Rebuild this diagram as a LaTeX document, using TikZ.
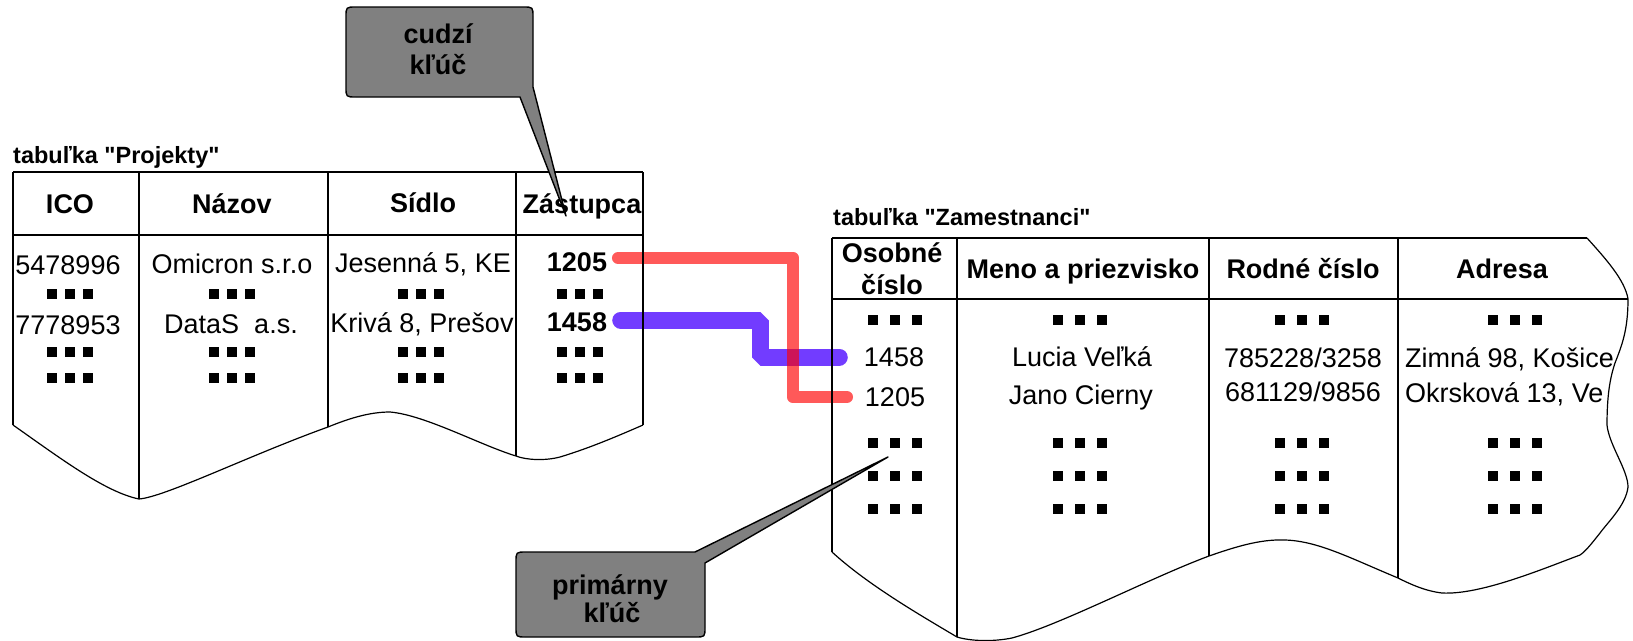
\documentclass[tikz,border=0pt]{standalone}
\usepackage{fontspec}
\setmainfont{Liberation Sans}[Ligatures=TeXOff]
\definecolor{calloutgray}{RGB}{128,128,128}
\definecolor{blueconn}{RGB}{114,60,255}
\newcommand\sqrowL{\rule{10.5pt}{10.5pt}\hspace{7.5pt}\rule{10.5pt}{10.5pt}\hspace{7.5pt}\rule{10.5pt}{10.5pt}}
\newcommand\sqrowR{\rule{10.5pt}{10.5pt}\hspace{11.5pt}\rule{10.5pt}{10.5pt}\hspace{11.5pt}\rule{10.5pt}{10.5pt}}
\begin{document}
\begin{tikzpicture}[x=1pt,y=-1pt,
  tline/.style={line width=1.4pt, line join=round},
  wline/.style={line width=1.2pt, line join=round},
  body/.style={inner sep=0pt, text height=19.3pt, text depth=0pt, font=\fontsize{27}{30}\selectfont},
  bodyb/.style={inner sep=0pt, text height=19.3pt, text depth=0pt, font=\fontsize{27}{30}\selectfont\bfseries},
  ttl/.style={inner sep=0pt, anchor=west, text height=16.8pt, text depth=0pt, font=\fontsize{23.5}{26}\selectfont\bfseries},
  sq/.style={inner sep=0pt},
  callout/.style={draw=black, fill=calloutgray, line width=1.4pt, line join=round},
  redline/.style={line width=12.5pt, draw=red, draw opacity=0.65, line cap=round, line join=round},
  blueline/.style={line width=17pt, draw=blueconn, line cap=round, line join=bevel},
]
\useasboundingbox (0,0) rectangle (1633,640);

% ---------- texts of table "Projekty" ----------
\node[ttl] (tproj) at (13,155) {tabuľka "Projekty"};
\node[bodyb] (hico) at (70,204) {ICO};
\node[bodyb] (hnaz) at (232,204) {Názov};
\node[bodyb] (hsid) at (423,202.5) {Sídlo};
\node[bodyb] (hzas) at (582,204) {Zástupca};
\node[body] (p1) at (68,265) {5478996};
\node[body] (p2) at (232,264) {Omicron s.r.o};
\node[body] (p3) at (423,263) {Jesenná 5, KE};
\node[bodyb] (pa1205) at (577,262) {1205};
\node[body] (p4) at (68,325) {7778953};
\node[body] (p5) at (231,324) {DataS\ \ a.s.};
\node[body] (p6) at (422,323) {Krivá 8, Prešov};
\node[bodyb] (pa1458) at (577,321.5) {1458};

% ---------- texts of table "Zamestnanci" ----------
\node[ttl] (tzam) at (833,217) {tabuľka "Zamestnanci"};
\node[bodyb] (hos1) at (892,252.5) {Osobné};
\node[bodyb] (hos2) at (892,285) {číslo};
\node[bodyb] (hmeno) at (1083,269) {Meno a priezvisko};
\node[bodyb] (hrod) at (1303,268.5) {Rodné číslo};
\node[bodyb] (hadr) at (1502,268.5) {Adresa};
\node[body] (za1458) at (894,357) {1458};
\node[body] (zlucia) at (1082,357) {Lucia Veľká};
\node[body] (zrc1) at (1303,357.5) {785228/3258};
\node[body] (za1205) at (895,397) {1205};
\node[body] (zjano) at (1081,394.5) {Jano Cierny};
\node[body] (zrc2) at (1303,392) {681129/9856};
\begin{scope}
  \clip (1398,230) -- (1587,230) -- (1587,238) .. controls (1605,258) and (1625,280) .. (1628,299)
     .. controls (1628,330) and (1622,345) .. (1615,363) .. controls (1610,378) and (1607,395) .. (1607,425)
     -- (1398,425) -- cycle;
  \node[body, anchor=west] (zadr1) at (1405,357.5) {Zimná 98, Košice};
  \node[body, anchor=west] (zadr2) at (1405,392.5) {Okrsková 13, Ve};
\end{scope}

% ---------- connectors ----------
\coordinate (rv) at (793,0);
\coordinate (bv) at (760,0);
\coordinate (rs) at ([xshift=11pt,yshift=4pt]pa1205.east);
\coordinate (re) at ([xshift=-18pt]za1205.west);
\coordinate (bs) at ([xshift=13.5pt,yshift=1.5pt]pa1458.east);
\coordinate (be) at ([xshift=-24.5pt]za1458.west);
\draw[blueline] (bs) -| (bv |- be) -- (be);
\draw[redline] (rs) -| (rv |- re) -- (re);

% ---------- table "Projekty" lines ----------
\draw[tline] (13,172) -- (643,172);
\draw[tline] (13,235) -- (643,235);
\draw[tline] (13,172) -- (13,425);
\draw[tline] (139,172) -- (139,499);
\draw[tline] (328,172) -- (328,427);
\draw[tline] (516,172) -- (516,456);
\draw[tline] (643,172) -- (643,425);
\draw[wline] (13,425) .. controls (60,458) and (105,492) .. (139,499)
   .. controls (165,497) and (250,455) .. (328,427)
   .. controls (350,418) and (370,412) .. (390,412)
   .. controls (425,415) and (480,445) .. (516,456)
   .. controls (526,460) and (545,461) .. (560,457)
   .. controls (590,448) and (620,435) .. (643,425);

% ---------- table "Zamestnanci" lines ----------
\draw[tline] (832,238) -- (1587,238);
\draw[tline] (832,299) -- (1628,299);
\draw[tline] (832,238) -- (832,552);
\draw[tline] (957,238) -- (957,637);
\draw[tline] (1209,238) -- (1209,556);
\draw[tline] (1398,238) -- (1398,578);
\draw[wline] (1587,238) .. controls (1605,258) and (1625,280) .. (1628,299)
   .. controls (1628,330) and (1622,345) .. (1615,363)
   .. controls (1610,378) and (1607,395) .. (1607,425)
   .. controls (1609,445) and (1628,470) .. (1628,487)
   .. controls (1626,505) and (1608,522) .. (1600,533)
   .. controls (1592,543) and (1586,551) .. (1580,555)
   .. controls (1540,570) and (1480,595) .. (1442,593)
   .. controls (1425,591) and (1410,584) .. (1398,578)
   .. controls (1350,558) and (1318,541) .. (1285,540)
   .. controls (1260,539) and (1235,547) .. (1209,556)
   .. controls (1150,578) and (1060,625) .. (1012,638)
   .. controls (992,642) and (970,641) .. (957,637)
   .. controls (920,615) and (868,585) .. (832,552);

% ---------- dots ----------
\foreach \cx [count=\ci] in {70,232,421,580}{
  \foreach \ry [count=\ri] in {294,352,378}{
    \node[sq] (ldot-\ci-\ri) at (\cx,\ry) {\sqrowL};
  }
}
\foreach \cx [count=\ci] in {895,1080,1302,1515}{
  \foreach \ry [count=\ri] in {320,443,476,509}{
    \node[sq] (rdot-\ci-\ri) at (\cx,\ry) {\sqrowR};
  }
}

% ---------- callouts ----------
\draw[callout] (356,7) -- (523,7) .. controls (533,7) .. (533,17) -- (533,87) -- (566,216) -- (520,97)
   -- (356,97) .. controls (346,97) .. (346,87) -- (346,17) .. controls (346,7) .. (356,7) -- cycle;
\node[bodyb] (ccud) at (438,33.5) {cudzí};
\node[bodyb] (ckluc1) at (438,64.5) {kľúč};
\draw[callout] (526,552) -- (695,552) -- (888,457) -- (705,563) -- (705,627) .. controls (705,637) .. (695,637)
   -- (526,637) .. controls (516,637) .. (516,627) -- (516,562) .. controls (516,552) .. (526,552) -- cycle;
\node[bodyb] (cprim) at (610,584.5) {primárny};
\node[bodyb] (ckluc2) at (612,612.5) {kľúč};
\end{tikzpicture}
\end{document}
